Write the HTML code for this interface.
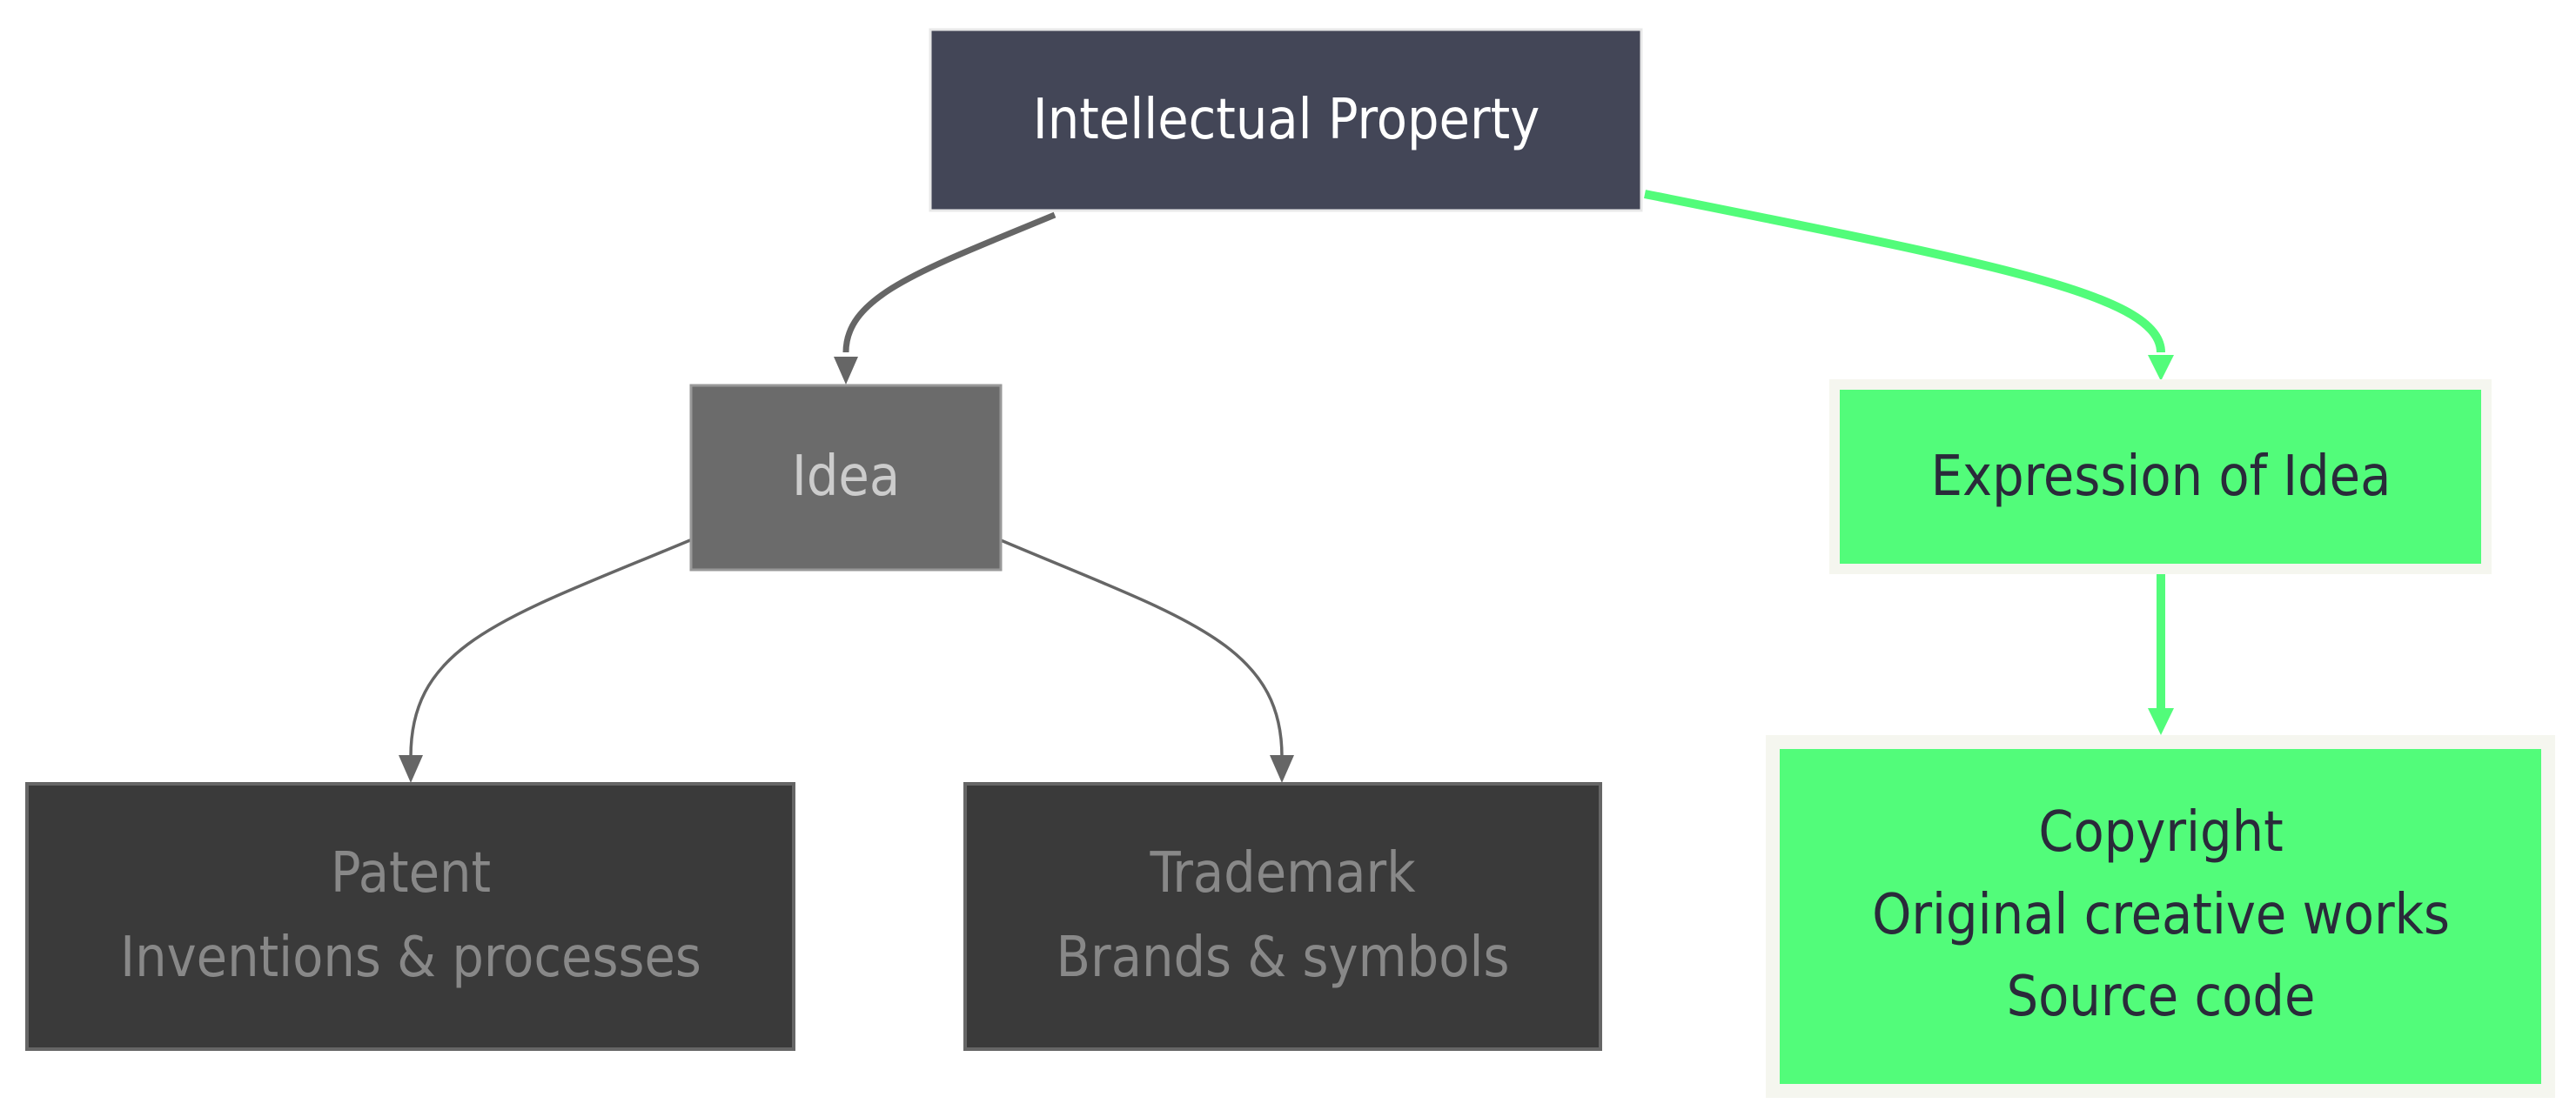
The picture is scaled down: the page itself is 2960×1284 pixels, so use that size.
<!DOCTYPE html>
<html><head><style>
html,body{margin:0;padding:0;background:#fff;width:2960px;height:1284px;overflow:hidden}
svg{display:block}
text{font-family:"DejaVu Sans Condensed","Liberation Sans",sans-serif;text-anchor:middle;dominant-baseline:central}
</style></head><body>
<svg width="2960" height="1284" viewBox="0 0 2960 1284" xmlns="http://www.w3.org/2000/svg">
<!-- edges -->
<path d="M1212,247 C1060,310 972,340 972,405" fill="none" stroke="#666" stroke-width="7"/>
<path d="M958,410 L986,410 L972,442 z" fill="#666"/>
<path d="M1890,223 C2300,305 2483,340 2483,405" fill="none" stroke="#52fc7a" stroke-width="10"/>
<path d="M2468,408 L2498,408 L2483,438 z" fill="#52fc7a"/>
<path d="M793,621 C580,710 472,740 472,870" fill="none" stroke="#666" stroke-width="3.5"/>
<path d="M458,868 L486,868 L472,900 z" fill="#666"/>
<path d="M1150,621 C1360,710 1473,740 1473,870" fill="none" stroke="#666" stroke-width="3.5"/>
<path d="M1459,868 L1487,868 L1473,900 z" fill="#666"/>
<path d="M2483,660 L2483,815" fill="none" stroke="#52fc7a" stroke-width="10"/>
<path d="M2468,814 L2498,814 L2483,845 z" fill="#52fc7a"/>
<!-- nodes -->
<rect x="1069" y="34" width="817" height="208" fill="#434657" stroke="#e8e8e8" stroke-width="3"/>
<text x="1478" y="138" font-size="64" fill="#ffffff">Intellectual Property</text>
<rect x="794" y="443" width="356" height="212" fill="#6b6b6b" stroke="#999" stroke-width="3"/>
<text x="972" y="548" font-size="64" fill="#cccccc">Idea</text>
<rect x="2108" y="442" width="749" height="212" fill="#52fc7a" stroke="#f5f6ef" stroke-width="12"/>
<text x="2483" y="548" font-size="64" fill="#2a2a3a">Expression of Idea</text>
<rect x="2037" y="853" width="891" height="401" fill="#52fc7a" stroke="#f5f6ef" stroke-width="16"/>
<text x="2483" y="957" font-size="64" fill="#2a2a3a">Copyright</text>
<text x="2483" y="1052" font-size="64" fill="#2a2a3a">Original creative works</text>
<text x="2483" y="1146" font-size="64" fill="#2a2a3a">Source code</text>
<rect x="31" y="901" width="881" height="305" fill="#3a3a3a" stroke="#666" stroke-width="4"/>
<text x="472" y="1004" font-size="64" fill="#888">Patent</text>
<text x="472" y="1101" font-size="64" fill="#888">Inventions &amp; processes</text>
<rect x="1109" y="901" width="730" height="305" fill="#3a3a3a" stroke="#666" stroke-width="4"/>
<text x="1474" y="1004" font-size="64" fill="#888">Trademark</text>
<text x="1474" y="1101" font-size="64" fill="#888">Brands &amp; symbols</text>
</svg>
</body></html>
